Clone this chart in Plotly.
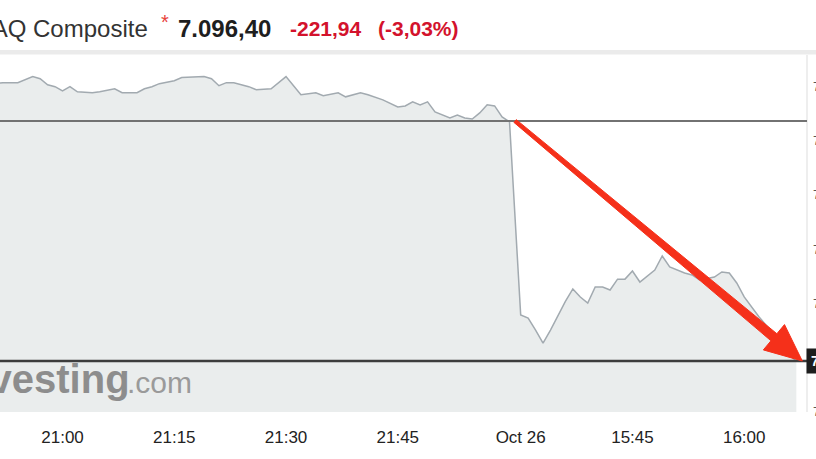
import plotly.graph_objects as go

# ---------------- data ----------------
PREV_CLOSE = 7318.34
LAST_PRICE = 7096.40
CHANGE_TEXT = "-221,94"
CHANGE_PCT_TEXT = "(-3,03%)"
LAST_TEXT = "7.096,40"
INDEX_NAME = "NASDAQ Composite"

day1_times = ["20:51", "20:52", "20:54", "20:55", "20:56", "20:57", "20:58", "20:59",
              "21:00", "21:01", "21:02", "21:04", "21:05", "21:07", "21:08", "21:10",
              "21:11", "21:12", "21:13", "21:15", "21:16", "21:19", "21:20", "21:21",
              "21:22", "21:23", "21:25", "21:26", "21:28", "21:30", "21:31", "21:32",
              "21:34", "21:35", "21:37", "21:38", "21:40", "21:41", "21:43", "21:45",
              "21:46", "21:47", "21:48", "21:49", "21:50", "21:51", "21:52", "21:53",
              "21:54", "21:55", "21:56", "21:57", "21:58", "21:59", "22:00"]
day1_values = [7352.9, 7353.8, 7353.8, 7356.6, 7359.4, 7357.5, 7351.9, 7350.1,
               7346.3, 7350.1, 7345.4, 7344.5, 7345.4, 7348.2, 7344.5, 7344.5,
               7348.2, 7350.1, 7352.9, 7355.6, 7358.5, 7359.4, 7357.5, 7351.0,
               7353.8, 7353.8, 7350.1, 7347.3, 7348.2, 7359.4, 7351.0, 7342.6,
               7344.5, 7341.7, 7344.5, 7340.7, 7344.5, 7342.6, 7337.9, 7331.4,
               7332.3, 7336.1, 7333.3, 7336.1, 7326.7, 7323.9, 7321.1, 7323.9,
               7321.1, 7320.2, 7325.8, 7333.3, 7332.3, 7322.1, 7317.5]

day2_times = ["15:30", "15:31", "15:32", "15:33", "15:34", "15:35", "15:36", "15:37",
              "15:38", "15:39", "15:40", "15:41", "15:42", "15:43", "15:44", "15:45",
              "15:46", "15:48", "15:49", "15:50", "15:52", "15:53", "15:54", "15:56",
              "15:57", "15:58", "15:59", "16:00", "16:01", "16:02", "16:03", "16:04",
              "16:05", "16:06", "16:07"]
day2_values = [7139.0, 7136.1, 7125.0, 7113.0, 7125.0, 7139.0, 7151.5, 7163.0,
               7155.6, 7150.0, 7164.8, 7164.8, 7162.0, 7172.1, 7172.1, 7179.6,
               7169.4, 7180.5, 7193.5, 7183.4, 7177.8, 7176.0, 7171.3, 7174.0,
               7178.7, 7177.8, 7168.5, 7155.6, 7146.3, 7137.0, 7129.0, 7120.0,
               7111.0, 7102.0, 7096.4]

tick_days = [1, 1, 1, 1, 2, 2, 2]
tick_times = ["21:00", "21:15", "21:30", "21:45", "15:30", "15:45", "16:00"]
tick_labels = ["21:00", "21:15", "21:30", "21:45", "Oct 26", "15:45", "16:00"]

y_tick_values = [7050, 7100, 7150, 7200, 7250, 7300, 7350]

# ---------------- helpers ----------------
DAY1_ORIGIN = "21:00"
DAY2_ORIGIN = "15:30"
DAY2_OFFSET = 61.5  # axis position of the second session's open


def minutes(t):
    h, m = t.split(":")
    return int(h) * 60 + int(m)


def pos(day, t):
    if day == 1:
        return minutes(t) - minutes(DAY1_ORIGIN)
    return DAY2_OFFSET + minutes(t) - minutes(DAY2_ORIGIN)


xs = [pos(1, t) for t in day1_times] + [pos(2, t) for t in day2_times]
ys = day1_values + day2_values
tick_pos = [pos(d, t) for d, t in zip(tick_days, tick_times)]

W, H = 816, 459
ML, MR, MT, MB = 0, 9, 55, 47
PW, PH = W - ML - MR, H - MT - MB
XR = [-8.39, 99.93]
YR = [7049.2, 7379.4]


def d2p(x, y):
    return ((x - XR[0]) / (XR[1] - XR[0]) * PW, (YR[1] - y) / (YR[1] - YR[0]) * PH)


def p2d(px, py):
    return (XR[0] + px / PW * (XR[1] - XR[0]), YR[1] - py / PH * (YR[1] - YR[0]))


def px_x(p):
    return p / PW


def px_y(p):
    return (PH + MT - p) / PH


FONT = "Liberation Sans, Arial, Helvetica, sans-serif"
RED = "#d3122c"
ARROW_RED = "#f5301a"

fig = go.Figure()
fig.add_trace(go.Scatter(
    x=xs, y=ys, mode="lines",
    line=dict(color="#a2aab0", width=1.5),
    fill="tozeroy", fillcolor="#eaeded",
    hoverinfo="skip", showlegend=False,
))

shapes = []
# separator strip on top of the chart
shapes.append(dict(type="rect", xref="paper", yref="paper",
                   x0=0, x1=W / PW, y0=px_y(50), y1=px_y(54.5),
                   fillcolor="#ebebeb", line=dict(width=0), layer="below"))
# right frame border
shapes.append(dict(type="line", xref="paper", yref="paper",
                   x0=1, x1=1, y0=0, y1=1,
                   line=dict(color="#dddddd", width=1)))
# previous close line
shapes.append(dict(type="line", xref="paper", yref="y",
                   x0=0, x1=1, y0=PREV_CLOSE, y1=PREV_CLOSE,
                   line=dict(color="#727272", width=2)))
# last price line
shapes.append(dict(type="line", xref="paper", yref="y",
                   x0=0, x1=1, y0=LAST_PRICE, y1=LAST_PRICE,
                   line=dict(color="#3d3d3d", width=2.5)))

# red callout arrow from the previous close at the session gap to the last price
tail = d2p((pos(1, day1_times[-1]) + DAY2_OFFSET) / 2, PREV_CLOSE)
tip = d2p(xs[-1] + 0.8, LAST_PRICE)
dx, dy = tip[0] - tail[0], tip[1] - tail[1]
ln = (dx * dx + dy * dy) ** 0.5
ux, uy = dx / ln, dy / ln
nx, ny = -uy, ux
HEAD_L, HEAD_W, W0, W1 = 37, 16.5, 1.8, 4.6
base = (tip[0] - ux * HEAD_L, tip[1] - uy * HEAD_L)
poly = [
    (tail[0] + nx * W0, tail[1] + ny * W0),
    (base[0] + nx * W1, base[1] + ny * W1),
    (base[0] + nx * HEAD_W, base[1] + ny * HEAD_W),
    tip,
    (base[0] - nx * HEAD_W, base[1] - ny * HEAD_W),
    (base[0] - nx * W1, base[1] - ny * W1),
    (tail[0] - nx * W0, tail[1] - ny * W0),
]
pts = [p2d(*p) for p in poly]
path = "M " + " L ".join(f"{x:.4f},{y:.4f}" for x, y in pts) + " Z"
shapes.append(dict(type="path", xref="x", yref="y", path=path,
                   fillcolor=ARROW_RED, line=dict(color=ARROW_RED, width=1)))

annotations = []
title_y = px_y(28)
annotations.append(dict(text=INDEX_NAME, xref="paper", yref="paper",
                        x=px_x(150), y=title_y, xanchor="right", yanchor="middle",
                        showarrow=False, font=dict(family=FONT, size=24, color="#333333")))
annotations.append(dict(text="*", xref="paper", yref="paper",
                        x=px_x(159), y=px_y(22), xanchor="left", yanchor="middle",
                        showarrow=False, font=dict(family=FONT, size=20, color="#e8413a")))
annotations.append(dict(text=f"<b>{LAST_TEXT}</b>", xref="paper", yref="paper",
                        x=px_x(176), y=title_y, xanchor="left", yanchor="middle",
                        showarrow=False, font=dict(family=FONT, size=24, color="#1e1e1e")))
annotations.append(dict(text=f"<b>{CHANGE_TEXT}</b>", xref="paper", yref="paper",
                        x=px_x(288), y=title_y, xanchor="left", yanchor="middle",
                        showarrow=False, font=dict(family=FONT, size=21, color=RED)))
annotations.append(dict(text=f"<b>{CHANGE_PCT_TEXT}</b>", xref="paper", yref="paper",
                        x=px_x(376), y=title_y, xanchor="left", yanchor="middle",
                        showarrow=False, font=dict(family=FONT, size=21, color=RED)))
# watermark
annotations.append(dict(text="<b>Investing</b>", xref="paper", yref="paper",
                        x=px_x(132), y=px_y(403), xanchor="right", yanchor="bottom",
                        showarrow=False, font=dict(family=FONT, size=40, color="#8d8d8d")))
annotations.append(dict(text=".com", xref="paper", yref="paper",
                        x=px_x(125), y=px_y(401), xanchor="left", yanchor="bottom",
                        showarrow=False, font=dict(family=FONT, size=30, color="#9a9a9a")))
# last price tag on the right edge
annotations.append(dict(text=f"<b>{LAST_TEXT}</b>", xref="paper", yref="y",
                        x=px_x(806), y=LAST_PRICE, xanchor="left", yanchor="middle",
                        showarrow=False, bgcolor="#1e1e1e", borderpad=4,
                        font=dict(family=FONT, size=14, color="#ffffff")))

fig.update_layout(
    width=W, height=H,
    margin=dict(l=ML, r=MR, t=MT, b=MB, pad=0, autoexpand=False),
    paper_bgcolor="#ffffff", plot_bgcolor="#ffffff",
    separators=",.",
    showlegend=False,
    shapes=shapes,
    annotations=annotations,
    xaxis=dict(range=XR, tickmode="array", tickvals=tick_pos, ticktext=tick_labels,
               showgrid=False, zeroline=False, showline=False, ticks="",
               ticklabelstandoff=13, automargin=False,
               tickfont=dict(family=FONT, size=17, color="#222222"), fixedrange=True),
    yaxis=dict(range=YR, side="right", tickmode="array", tickvals=y_tick_values,
               tickformat=",d", showgrid=False, zeroline=False, showline=False,
               ticks="", ticklabelstandoff=5, automargin=False,
               tickfont=dict(family=FONT, size=13, color="#555555"), fixedrange=True),
)

fig.write_html("out.html", config={"displayModeBar": False},
               post_script="document.body.style.margin='0px';"
                           "document.body.style.overflow='hidden';")
